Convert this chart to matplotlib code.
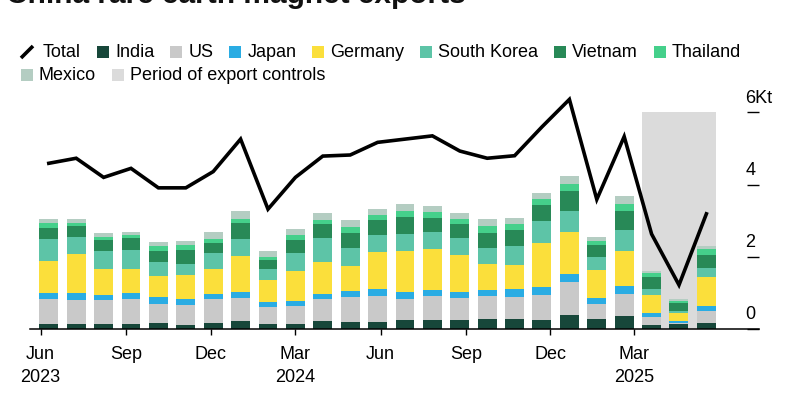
import datetime as dt
import matplotlib
matplotlib.use("Agg")
import matplotlib.pyplot as plt
from matplotlib.patches import Rectangle
from matplotlib.lines import Line2D
import matplotlib.transforms as mtransforms
import numpy as np

plt.rcParams['font.family'] = ['Liberation Sans', 'DejaVu Sans']

# ---------------- data (thousand tonnes) ----------------
months = ["2023-06", "2023-07", "2023-08", "2023-09", "2023-10", "2023-11", "2023-12",
          "2024-01", "2024-02", "2024-03", "2024-04", "2024-05", "2024-06", "2024-07",
          "2024-08", "2024-09", "2024-10", "2024-11", "2024-12", "2025-01", "2025-02",
          "2025-03", "2025-04", "2025-05", "2025-06"]
total = [4.59, 4.73, 4.20, 4.45, 3.91, 3.91, 4.36, 5.26, 3.32, 4.20, 4.79, 4.82, 5.17,
         5.26, 5.35, 4.93, 4.73, 4.80, 5.60, 6.36, 3.59, 5.33, 2.63, 1.22, 3.19]
india = [0.14, 0.14, 0.14, 0.15, 0.16, 0.12, 0.16, 0.23, 0.15, 0.15, 0.23, 0.19, 0.19,
         0.26, 0.24, 0.24, 0.28, 0.27, 0.25, 0.40, 0.28, 0.37, 0.10, 0.13, 0.16]
us = [0.70, 0.65, 0.66, 0.69, 0.54, 0.54, 0.66, 0.64, 0.47, 0.50, 0.60, 0.70, 0.73,
      0.58, 0.67, 0.61, 0.64, 0.63, 0.69, 0.89, 0.41, 0.59, 0.24, 0.05, 0.35]
japan = [0.17, 0.20, 0.14, 0.17, 0.18, 0.17, 0.14, 0.16, 0.12, 0.13, 0.13, 0.15, 0.18,
         0.18, 0.17, 0.18, 0.17, 0.22, 0.21, 0.24, 0.16, 0.24, 0.09, 0.03, 0.14]
germany = [0.88, 1.08, 0.71, 0.65, 0.60, 0.66, 0.71, 1.00, 0.62, 0.83, 0.90, 0.70, 1.03,
           1.14, 1.14, 1.02, 0.72, 0.66, 1.24, 1.17, 0.79, 0.96, 0.51, 0.23, 0.78]
south_korea = [0.60, 0.49, 0.52, 0.54, 0.38, 0.32, 0.44, 0.47, 0.30, 0.50, 0.67, 0.49, 0.48,
               0.46, 0.46, 0.46, 0.43, 0.51, 0.60, 0.58, 0.35, 0.58, 0.17, 0.07, 0.26]
vietnam = [0.31, 0.30, 0.30, 0.32, 0.31, 0.37, 0.28, 0.43, 0.24, 0.36, 0.37, 0.42, 0.42,
           0.47, 0.39, 0.40, 0.42, 0.46, 0.44, 0.53, 0.33, 0.54, 0.34, 0.20, 0.35]
thailand = [0.13, 0.09, 0.09, 0.09, 0.12, 0.14, 0.11, 0.13, 0.09, 0.14, 0.13, 0.17, 0.14,
            0.18, 0.18, 0.14, 0.20, 0.17, 0.16, 0.21, 0.12, 0.18, 0.09, 0.07, 0.18]
mexico = [0.11, 0.11, 0.09, 0.08, 0.11, 0.12, 0.18, 0.21, 0.17, 0.17, 0.18, 0.19, 0.15,
          0.18, 0.16, 0.17, 0.18, 0.16, 0.17, 0.22, 0.12, 0.23, 0.07, 0.05, 0.08]

control_months = ["2025-04", "2025-06"]   # period of export controls (first, last)
control_top = 6

tick_months = ["2023-06", "2023-09", "2023-12", "2024-03", "2024-06", "2024-09",
               "2024-12", "2025-03"]
tick_labels = ["Jun\n2023", "Sep", "Dec", "Mar\n2024", "Jun", "Sep", "Dec", "Mar\n2025"]
y_ticks = [0, 2, 4, 6]
y_labels = ["0", "2", "4", "6Kt"]

title = "China rare earth magnet exports"

# ---------------- styles ----------------
series = [
    ("India", india, "#17473a"),
    ("US", us, "#c9c9c9"),
    ("Japan", japan, "#2aace3"),
    ("Germany", germany, "#fbdf3b"),
    ("South Korea", south_korea, "#5dc4a7"),
    ("Vietnam", vietnam, "#288957"),
    ("Thailand", thailand, "#45d08b"),
    ("Mexico", mexico, "#b4cdc2"),
]
shade_color = "#dbdbdb"
FS = 13

W, H = 800, 420
fig = plt.figure(figsize=(W / 100, H / 100), dpi=100)
fig.patch.set_facecolor("white")

y0_px, px_per_kt = 329, 36.1
ytop = 6.5
ax = fig.add_axes([30 / W, (H - y0_px) / H, 729 / W, ytop * px_per_kt / H])
ax.set_facecolor("none")

n = len(months)
x = np.arange(n)
bw = 0.693
ax.set_xlim(-0.686, 25.92)
ax.set_ylim(0, ytop)

# shaded period
i0 = months.index(control_months[0])
i1 = months.index(control_months[1])
ax.fill_between([i0 - bw / 2, i1 + bw / 2], 0, control_top, color=shade_color,
                linewidth=0, zorder=1)

# stacked bars
bottom = np.zeros(n)
for name, vals, col in series:
    v = np.array(vals)
    ax.bar(x, v, width=bw, bottom=bottom, color=col, linewidth=0, zorder=2)
    bottom += v

# total line
ax.plot(x, total, color="black", lw=2.6, zorder=4, solid_joinstyle="miter")

# x ticks from a time scale spanning the band range
d0 = dt.date.fromisoformat(months[0] + "-01")
d1 = dt.date.fromisoformat(months[-1] + "-01")
t_lo, t_hi = -0.30, 24.48
tpos = [t_lo + (dt.date.fromisoformat(m + "-01") - d0).days / (d1 - d0).days * (t_hi - t_lo)
        for m in tick_months]
ax.set_xticks(tpos)
ax.set_xticklabels(tick_labels, fontsize=FS, linespacing=1.45)
ax.tick_params(axis="x", direction="out", length=4.5, width=1.0, pad=8, colors="black")

# y axis on the right with short inward ticks, labels above
ax.yaxis.tick_right()
ax.set_yticks(y_ticks)
ax.set_yticklabels([])
ax.tick_params(axis="y", direction="in", length=8.6, width=1.0, colors="black")
off = mtransforms.offset_copy(ax.transData, fig=fig, x=0, y=7.0, units="points")
for v, lab in zip(y_ticks, y_labels):
    ax.text(25.42, v, lab, transform=off, ha="left", va="baseline", fontsize=FS)

for s in ["left", "top", "right"]:
    ax.spines[s].set_visible(False)
ax.spines["bottom"].set_linewidth(1.1)
ax.spines["bottom"].set_zorder(3)

# title (cropped at the top, as in the source image)
fig.text(6 / W, 1 - 3 / H, title, fontsize=21.5, fontweight="bold", ha="left",
         va="baseline", color="#111111")

# manual legend
renderer = fig.canvas.get_renderer()
def fx(px): return px / W
def fy(py): return 1 - py / H

legend_rows = [
    [("Total", None)] + [(nm, col) for nm, _, col in series[:7]],
    [(series[7][0], series[7][2]), ("Period of export controls", shade_color)],
]
row_y = [52, 75]
sq = 12
for row, yc in zip(legend_rows, row_y):
    xc = 21
    for label, col in row:
        if col is None:
            fig.add_artist(Line2D([fx(xc), fx(xc + 12)], [fy(yc + 6), fy(yc - 6)],
                                  transform=fig.transFigure, color="black", lw=2.6,
                                  solid_capstyle="butt"))
            xc += 12 + 10
        else:
            fig.add_artist(Rectangle((fx(xc), fy(yc + sq / 2)), sq / W, sq / H,
                                     transform=fig.transFigure, color=col, lw=0))
            xc += sq + 6
        t = fig.text(fx(xc), fy(yc + 5), label, fontsize=FS, ha="left", va="baseline")
        w = t.get_window_extent(renderer).width
        xc += w + 16

fig.savefig("out.png", dpi=100, facecolor="white")
